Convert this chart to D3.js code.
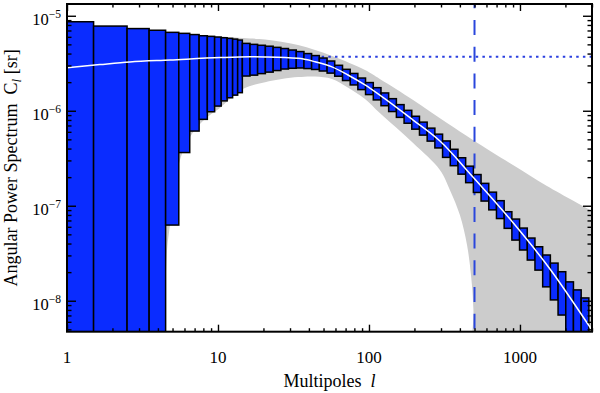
<!DOCTYPE html>
<html>
<head>
<meta charset="utf-8">
<script src="https://cdn.jsdelivr.net/npm/d3@7"></script>
<style>
body { margin: 0; background: #fff; }
text { font-family: "Liberation Serif", "DejaVu Serif", serif; fill: #000; white-space: pre; }
</style>
</head>
<body>
<svg id="chart" width="600" height="393"></svg>
<script>
/* Binned spectrum: bin edges in multipole, box low / high in sr (0 = below the axis) */
var binEdges = [0.5, 1.5, 2.5, 3.5, 4.5, 5.5, 6.5, 7.5, 8.5, 9.5, 10.5, 11.5, 12.5, 13.5, 14.5,
	16.3, 18.3, 20.6, 23.2, 26.1, 29.3, 33.0, 37.1, 41.7, 46.9, 52.8, 59.3, 66.8, 75.1, 84.4,
	94.9, 106.8, 120.1, 135.0, 151.9, 170.8, 192.1, 216.0, 242.9, 273.2, 307.2, 345.5, 388.6,
	436.9, 491.4, 552.6, 621.5, 698.9, 786.0, 884.0, 994.0, 1118, 1257, 1414, 1590, 1788, 2011,
	2261, 2543, 2860];
var binHi = [8.65e-6, 7.79e-6, 7.33e-6, 7.04e-6, 6.69e-6, 6.53e-6, 6.34e-6, 6.16e-6, 6.07e-6,
	5.97e-6, 5.87e-6, 5.78e-6, 5.68e-6, 5.55e-6,
	5.12e-6, 5.00e-6, 4.89e-6, 4.78e-6, 4.65e-6, 4.52e-6, 4.36e-6, 4.20e-6, 4.00e-6, 3.81e-6,
	3.59e-6, 3.34e-6,
	3.01e-6, 2.73e-6, 2.47e-6, 2.21e-6, 1.98e-6, 1.75e-6, 1.54e-6, 1.34e-6, 1.16e-6, 1.01e-6,
	8.75e-7, 7.59e-7, 6.56e-7, 5.67e-7, 4.81e-7, 3.93e-7, 3.20e-7, 2.61e-7, 2.13e-7, 1.72e-7,
	1.39e-7, 1.13e-7,
	8.65e-8, 7.24e-8, 5.82e-8, 4.57e-8, 3.70e-8, 3.03e-8, 2.49e-8, 2.02e-8, 1.58e-8, 1.30e-8, 1.07e-8];
var binLo = [0, 0, 0, 0, 6.26e-8, 3.63e-7, 6.11e-7, 8.12e-7, 9.76e-7, 1.12e-6, 1.27e-6, 1.37e-6,
	1.46e-6, 1.55e-6,
	2.32e-6, 2.37e-6, 2.46e-6, 2.55e-6, 2.65e-6, 2.75e-6, 2.80e-6, 2.82e-6, 2.78e-6, 2.72e-6,
	2.62e-6, 2.49e-6,
	2.31e-6, 2.08e-6, 1.87e-6, 1.67e-6, 1.48e-6, 1.30e-6, 1.13e-6, 9.81e-7, 8.52e-7, 7.39e-7,
	6.40e-7, 5.54e-7, 4.79e-7, 4.06e-7, 3.23e-7, 2.64e-7, 2.15e-7, 1.75e-7, 1.38e-7, 1.12e-7,
	9.05e-8, 7.33e-8,
	5.78e-8, 4.35e-8, 3.42e-8, 2.68e-8, 2.10e-8, 1.40e-8, 1.02e-8, 7.07e-9, 0, 0, 0];

/* Model spectrum (white curve) */
var modelEll = [1, 1.65, 2.61, 4.81, 10.3, 16.3, 20.5, 33.9, 43.9, 56.9, 72.6, 94.1, 118, 196,
	295, 488, 859, 1580, 2908, 3000];
var modelCl = [2.84e-6, 3.06e-6, 3.26e-6, 3.42e-6, 3.63e-6, 3.70e-6, 3.68e-6, 3.56e-6, 3.28e-6,
	2.90e-6, 2.38e-6, 1.87e-6, 1.46e-6, 7.98e-7, 4.80e-7, 2.01e-7, 7.24e-8, 2.16e-8, 5.29e-9, 4.92e-9];

/* Gray band, upper and lower edges (tiny values = below the axis) */
var bandUpEll = [1, 3.55, 7.6, 14.6, 20.5, 33.9, 56.9, 94.1, 118, 196, 329, 488, 899, 1509, 3000];
var bandUpCl = [8.18e-6, 6.90e-6, 6.26e-6, 5.82e-6, 5.62e-6, 4.91e-6, 3.77e-6, 2.68e-6, 2.16e-6,
	1.30e-6, 7.42e-7, 4.92e-7, 2.68e-7, 1.61e-7, 8.79e-8];
var bandLowEll = [4.52, 4.56, 4.81, 5.60, 6.53, 7.60, 8.85, 10.3, 14.6, 20.5, 33.9, 43.9, 56.9,
	71.5, 94.1, 118, 196, 295, 344, 400, 446, 474, 492, 498, 3000];
var bandLowCl = [1e-13, 2.68e-8, 6.26e-8, 3.03e-7, 5.29e-7, 7.24e-7, 9.01e-7, 1.07e-6,
	1.69e-6, 2.00e-6, 2.26e-6, 2.29e-6, 2.16e-6, 1.78e-6, 1.33e-6, 9.46e-7, 4.57e-7, 2.38e-7,
	1.46e-7, 7.98e-8, 3.86e-8, 1.86e-8, 7.98e-9, 1e-10, 1e-10];

var clPeak = 3.71e-6;
var ellMax = 500;

var xTicks = [1, 10, 100, 1000];
var yTicks = [1e-5, 1e-6, 1e-7, 1e-8];
var yTickExp = ["\u22125", "\u22126", "\u22127", "\u22128"];

/* Scales */
var pLeft = 67, pRight = 592, pTop = 4, pBottom = 331.7;
var x = d3.scaleLog().domain([1, 3000]).range([pLeft, pRight]);
var y = d3.scaleLog().domain([4.72e-9, 1.33e-5]).range([pBottom, pTop]);

var svg = d3.select("#chart");
svg.append("defs").append("clipPath").attr("id", "plot")
	.append("rect")
	.attr("x", pLeft).attr("y", pTop)
	.attr("width", pRight - pLeft).attr("height", pBottom - pTop);

var plot = svg.append("g").attr("clip-path", "url(#plot)");

/* Gray band */
var band = d3.line().curve(d3.curveCatmullRom.alpha(0.5));
var up = bandUpEll.map(function(l, i){ return [x(l), y(bandUpCl[i])]; });
var low = bandLowEll.map(function(l, i){ return [x(l), y(bandLowCl[i])]; }).reverse();
plot.append("path")
	.attr("d", band(up) + band(low).replace(/^M/, "L") + "Z")
	.attr("fill", "#cccccc");

/* Reference lines */
plot.append("line")
	.attr("x1", x(1)).attr("x2", x(3000))
	.attr("y1", y(clPeak)).attr("y2", y(clPeak))
	.attr("stroke", "#2a3fe0").attr("stroke-width", 2)
	.attr("stroke-dasharray", "2.5,4.2");

plot.append("line")
	.attr("x1", x(ellMax)).attr("x2", x(ellMax))
	.attr("y1", pTop).attr("y2", pBottom)
	.attr("stroke", "#2a46dc").attr("stroke-width", 2)
	.attr("stroke-dasharray", "15,11.7")
	.attr("stroke-dashoffset", 10.7);

/* Boxes */
for (var i = 0; i < binHi.length; i++){
	var x0 = x(binEdges[i]), x1 = x(binEdges[i+1]);
	var yTop = y(binHi[i]);
	var yBot = binLo[i] > 0 ? y(binLo[i]) : pBottom + 5;
	plot.append("rect")
		.attr("x", x0).attr("y", yTop)
		.attr("width", x1 - x0).attr("height", yBot - yTop)
		.attr("fill", "rgb(10,44,255)")
		.attr("stroke", "#000").attr("stroke-width", 1.5);
}

/* Model curve */
var model = d3.line().curve(d3.curveMonotoneX);
plot.append("path")
	.attr("d", model(modelEll.map(function(l, i){ return [x(l), y(modelCl[i])]; })))
	.attr("fill", "none").attr("stroke", "#fff").attr("stroke-width", 1.5);

/* Ticks on four sides */
var xMinor = x.ticks().filter(function(d){ return xTicks.indexOf(d) < 0; });
var yMinor = y.ticks().filter(function(d){ return yTicks.indexOf(d) < 0; });

function ticks(axis, values, size, tx, ty){
	svg.append("g")
		.attr("transform", "translate(" + tx + "," + ty + ")")
		.call(axis.tickValues(values).tickSize(size).tickFormat(""))
		.call(function(g){
			g.select(".domain").remove();
			g.selectAll("line").attr("stroke", "#000").attr("stroke-width", 1.4);
		});
}
ticks(d3.axisBottom(x), xTicks, -7, 0, pBottom);
ticks(d3.axisBottom(x), xMinor, -3.5, 0, pBottom);
ticks(d3.axisTop(x), xTicks, -7, 0, pTop);
ticks(d3.axisTop(x), xMinor, -3.5, 0, pTop);
ticks(d3.axisLeft(y), yTicks, -9, pLeft, 0);
ticks(d3.axisLeft(y), yMinor, -4.5, pLeft, 0);
ticks(d3.axisRight(y), yTicks, -9, pRight, 0);
ticks(d3.axisRight(y), yMinor, -4.5, pRight, 0);

svg.append("rect")
	.attr("x", pLeft).attr("y", pTop)
	.attr("width", pRight - pLeft).attr("height", pBottom - pTop)
	.attr("fill", "none").attr("stroke", "#000").attr("stroke-width", 2);

/* Labels */
xTicks.forEach(function(d){
	svg.append("text")
		.attr("x", x(d)).attr("y", 363)
		.attr("text-anchor", "middle")
		.attr("font-size", 17)
		.text(d);
});

yTicks.forEach(function(d, i){
	var t = svg.append("text")
		.attr("x", 61).attr("y", y(d) + 9)
		.attr("text-anchor", "end")
		.attr("font-size", 16.5);
	t.append("tspan").text("10");
	t.append("tspan").attr("font-size", 11.5).attr("dy", -6.5).text(yTickExp[i]);
});

var xt = svg.append("text")
	.attr("x", (pLeft + pRight)/2).attr("y", 387)
	.attr("text-anchor", "middle")
	.attr("font-size", 18);
xt.append("tspan").text("Multipoles  ");
xt.append("tspan").attr("font-style", "italic").text("l");

var yt = svg.append("text")
	.attr("transform", "translate(17," + (pTop + pBottom)/2 + ") rotate(-90)")
	.attr("text-anchor", "middle")
	.attr("font-size", 18);
yt.append("tspan").text("Angular Power Spectrum  C");
yt.append("tspan").attr("font-style", "italic").attr("font-size", 13).attr("dy", 4).text("l");
yt.append("tspan").attr("dy", -4).text(" [sr]");
</script>
</body>
</html>
